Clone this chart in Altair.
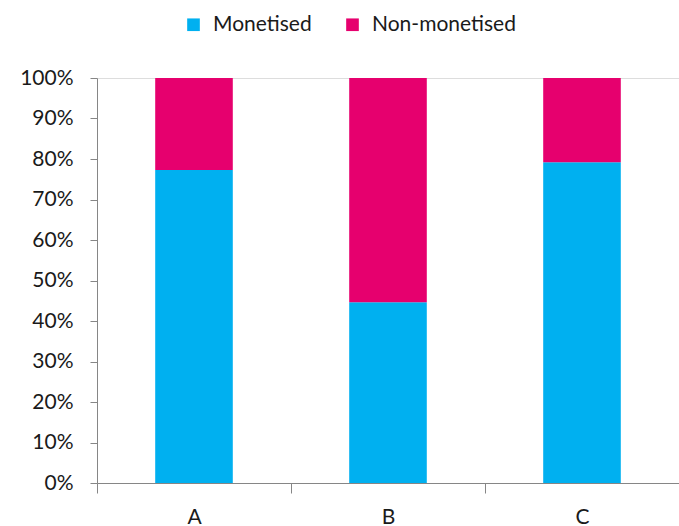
import altair as alt
import pandas as pd

categories = ["A", "B", "C"]
monetised = [77.3, 44.6, 79.2]
non_monetised = [22.7, 55.4, 20.8]
series = ["Monetised", "Non-monetised"]
colors = ["#00B0F0", "#E6006E"]

rows = []
for c, m, n in zip(categories, monetised, non_monetised):
    rows.append({"cat": c, "series": series[0], "value": m, "ord": 0})
    rows.append({"cat": c, "series": series[1], "value": n, "ord": 1})
df = pd.DataFrame(rows)

font = "Lato"

chart = alt.Chart(df).mark_bar(width=alt.RelativeBandSize(0.4)).encode(
    x=alt.X("cat:N", title=None, sort=categories,
            scale=alt.Scale(paddingInner=0, paddingOuter=0),
            axis=alt.Axis(labelAngle=0, tickBand="extent", tickSize=10,
                          labelPadding=13, labelFontSize=21, labelFont=font,
                          labelColor="#1a1a1a", domainColor="#868686",
                          tickColor="#868686", grid=False)),
    y=alt.Y("value:Q", stack="normalize", title=None,
            scale=alt.Scale(domain=[0, 1]),
            axis=alt.Axis(format="%", values=[i / 10 for i in range(11)],
                          tickSize=7, labelPadding=17, labelFontSize=21,
                          labelFont=font, labelColor="#1a1a1a",
                          domainColor="#868686", tickColor="#868686",
                          grid=False)),
    color=alt.Color("series:N", sort=series,
                    scale=alt.Scale(domain=series, range=colors),
                    legend=alt.Legend(title=None, orient="none", direction="horizontal",
                                      legendX=86, legendY=-64,
                                      symbolType="square", symbolSize=160,
                                      symbolStrokeWidth=0,
                                      labelFontSize=21, labelFont=font,
                                      labelColor="#1a1a1a", columnPadding=30,
                                      labelOffset=9)),
    order=alt.Order("ord:Q"),
).properties(
    width=582, height=405,
    autosize=alt.AutoSizeParams(type="none"),
    padding={"left": 97, "top": 78, "right": 0, "bottom": 43},
).configure_view(stroke=None).configure(background="white")

chart.save("out.html", embed_options={"renderer": "svg", "actions": False})
